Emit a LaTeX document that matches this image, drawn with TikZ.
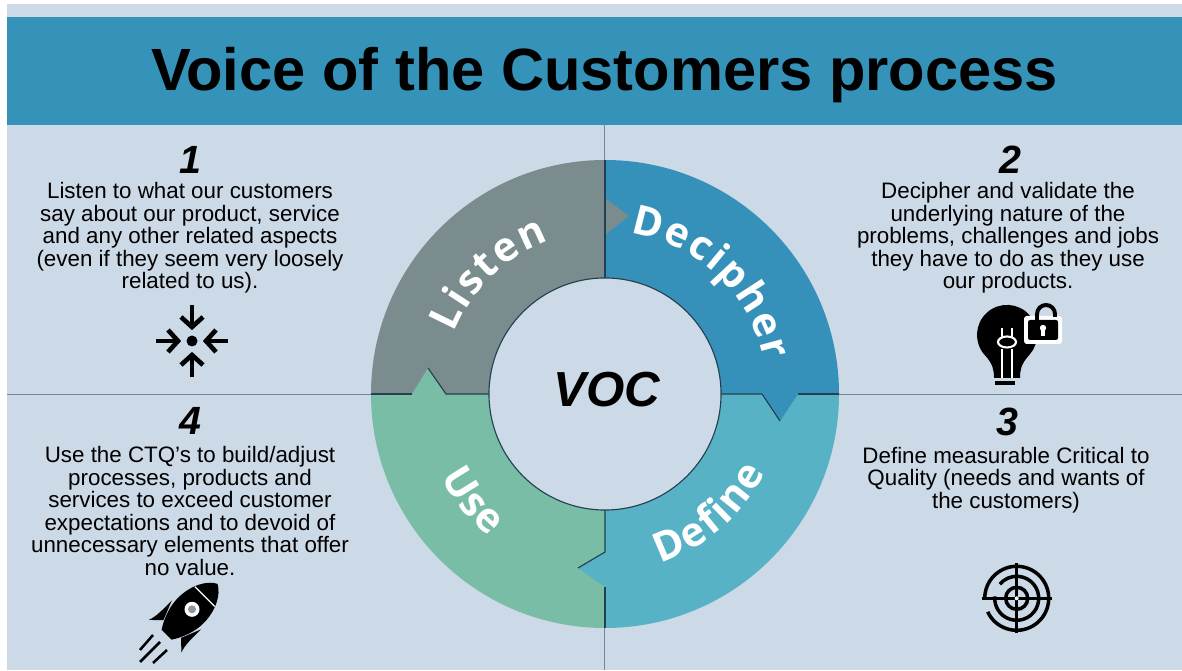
\documentclass[tikz,border=0pt]{standalone}
\usepackage{fontspec}
\setmainfont{Liberation Sans}
\newfontfamily\ringfont{Open Sans}
\usetikzlibrary{positioning,calc,decorations.text}
\definecolor{panelblue}{HTML}{CCD9E6}
\definecolor{headerblue}{HTML}{3592B8}
\definecolor{listengrey}{HTML}{7A8C8E}
\definecolor{decipherblue}{HTML}{3691BA}
\definecolor{definecyan}{HTML}{56B2C4}
\definecolor{usegreen}{HTML}{79BDA7}
\definecolor{seamdark}{HTML}{22404F}
\definecolor{crossgrey}{HTML}{72889A}
\newcommand{\ringtext}[1]{|\color{white}\ringfont\bfseries\fontsize{29}{29}\selectfont|#1}
\tikzset{
	steptext/.style={align=center, inner sep=0pt, font=\fontsize{15.9}{16}\selectfont},
	stepnum/.style={inner sep=0pt, font=\fontsize{28}{28}\selectfont\bfseries\itshape},
	seam/.style={seamdark, line width=0.8pt},
	iconline/.style={black, line width=3.3pt},
	targetline/.style={black, line width=2.5pt},
	ringlabel/.style={decorate, decoration={text along path, text={#1}, text align={fit to path}}},
}

\begin{document}
\begin{tikzpicture}[x=0.025cm, y=0.025cm]
	\useasboundingbox (0,0) rectangle (1182,670);
	\fill[white] (0,0) rectangle (1182,670);
	\fill[panelblue] (7,0) rectangle (1182,666);
	\fill[headerblue] (7,545) rectangle (1182,653);
	\node[inner sep=0pt, font=\fontsize{42.4}{42.4}\selectfont\bfseries] (title) at (604.5,595) {Voice of the Customers process};

	\draw[crossgrey, line width=0.6pt] (7,276) -- (1182,276);
	\draw[crossgrey, line width=0.6pt] (604,0) -- (604,545);

	% ring
	\begin{scope}[shift={(605,276)}]
		\fill[decipherblue] (0,234) arc[start angle=90, end angle=0, radius=234] -- (0,0) -- cycle;
		\fill[definecyan] (234,0) arc[start angle=0, end angle=-90, radius=234] -- (0,0) -- cycle;
		\fill[usegreen] (0,-234) arc[start angle=-90, end angle=-180, radius=234] -- (0,0) -- cycle;
		\fill[listengrey] (-234,0) arc[start angle=180, end angle=90, radius=234] -- (0,0) -- cycle;

		\fill[listengrey] (0,196) -- (24,178) -- (0,159) -- cycle;
		\fill[decipherblue] (193,0) -- (175,-27) -- (157,0) -- cycle;
		\fill[definecyan] (0,-193) -- (-27,-174) -- (0,-158) -- cycle;
		\fill[usegreen] (-193,0) -- (-177,26) -- (-159,0) -- cycle;

		\draw[seam] (0,234) -- (0,0);
		\draw[seam] (-234,0) -- (-193,0);
		\draw[seam] (-177,26) -- (-159,0) -- (0,0);
		\draw[seam] (0,0) -- (157,0) -- (175,-27);
		\draw[seam] (193,0) -- (234,0);
		\draw[seam] (0,0) -- (0,-158) -- (-27,-174);
		\draw[seam] (0,-193) -- (0,-234);

		\node[circle, draw=seamdark, line width=0.8pt, fill=panelblue, minimum size=5.8cm, inner sep=0pt] (hub) at (0,0) {};
		\node[inner sep=0pt, font=\fontsize{35}{35}\selectfont\bfseries\itshape] (voc) at (2,4) {VOC};

		\path[ringlabel={\ringtext{Listen}}] (158:163) arc[start angle=158, end angle=110, radius=163];
		\path[ringlabel={\ringtext{Decipher}}] (81:163) arc[start angle=81, end angle=12, radius=163];
		\path[ringlabel={\ringtext{Define}}] (-72:178) arc[start angle=-72, end angle=-26, radius=178];
		\path[ringlabel={\ringtext{Use}}] (207:184) arc[start angle=207, end angle=231, radius=184];
	\end{scope}

	% step texts
	\node[stepnum] (numone) at (190,510) {1};
	\node[steptext] (stepone) at (190,432) {Listen to what our customers\\say about our product, service\\and any other related aspects\\(even if they seem very loosely\\related to us).};
	\node[stepnum] (numtwo) at (1010,510) {2};
	\node[steptext] (steptwo) at (1008,432) {Decipher and validate the\\underlying nature of the\\problems, challenges and jobs\\they have to do as they use\\our products.};
	\node[stepnum] (numthree) at (1007,248) {3};
	\node[steptext] (stepthree) at (1006,190) {Define measurable Critical to\\Quality (needs and wants of\\the customers)};
	\node[stepnum] (numfour) at (190,249) {4};
	\node[steptext] (stepfour) at (190,159) {Use the CTQ's to build/adjust\\processes, products and\\services to exceed customer\\expectations and to devoid of\\unnecessary elements that offer\\no value.};

	% converging arrows
	\begin{scope}[shift={(192,329)}]
		\fill (0,0) circle (5.5);
		\foreach \a in {0,90,180,270} {
			\begin{scope}[rotate=\a]
				\draw[iconline] (36,0) -- (14,0);
				\draw[iconline] (24,11) -- (14,0) -- (24,-11);
			\end{scope}
		}
	\end{scope}

	% bulb and lock
	\fill (984.7,315) arc[start angle=222, end angle=-42, radius=30]
		.. controls (1021,306) and (1020,300) .. (1020,292) -- (994,292)
		.. controls (994,300) and (993,306) .. (984.7,315) -- cycle;
	\draw[black, line width=2.4pt] (995,287) -- (1015,287);
	\draw[white, line width=1.5pt] (1002,342) -- (1002,333) (1012,342) -- (1012,333);
	\draw[white, line width=1.5pt] (1007,328) ellipse (9 and 5.5);
	\draw[white, line width=1.5pt] (1002,321) -- (1002,292) (1012,321) -- (1012,292);
	\fill[white, rounded corners=2pt] (1024,326) rectangle (1062,354);
	\fill[rounded corners=1.5pt] (1028,330) rectangle (1058,350);
	\fill[white] (1043,342) circle (3.2);
	\fill[white] (1041.3,342) rectangle (1044.7,334);
	\draw[black, line width=2.8pt] (1037,350) -- (1037,356) arc[start angle=180, end angle=0, radius=9] -- (1055,353);

	% target
	\begin{scope}[shift={(1016.7,71.7)}]
		\draw[targetline] (205:32) arc[start angle=205, end angle=540, radius=32];
		\draw[targetline] (175:22) arc[start angle=175, end angle=500, radius=22];
		\draw[targetline] (0,0) circle (11);
		\draw[targetline] (-35,0) -- (35,0);
		\draw[targetline] (0,-35) -- (0,35);
		\fill[white] (0,0) circle (2);
	\end{scope}

	% rocket
	\begin{scope}[shift={(192,60.7)}, rotate=45]
		\fill (36,0) .. controls (31,10) and (16,18) .. (-2,18) .. controls (-14,18) and (-27,13) .. (-36,7) -- (-36,-7)
			.. controls (-27,-13) and (-14,-18) .. (-2,-18) .. controls (16,-18) and (31,-10) .. (36,0) -- cycle;
		\draw[white, line width=0.9pt] (18,-14) -- (18,14);
		\fill (-8,20.5) .. controls (-20,20.5) and (-30,20) .. (-38,23) -- (-28,12.5) -- cycle;
		\fill (-8,-20.5) .. controls (-20,-20.5) and (-30,-20) .. (-38,-23) -- (-28,-12.5) -- cycle;
		\fill[white] (0,0) circle (7.5);
		\fill[panelblue!70!black] (0,0) circle (4);
	\end{scope}
	\draw[black, line width=1.8pt] (153,35) -- (140,20);
	\draw[black, line width=1.8pt] (160,28) -- (140,8);
	\draw[black, line width=1.8pt] (167,20) -- (153,7);
\end{tikzpicture}
\end{document}
